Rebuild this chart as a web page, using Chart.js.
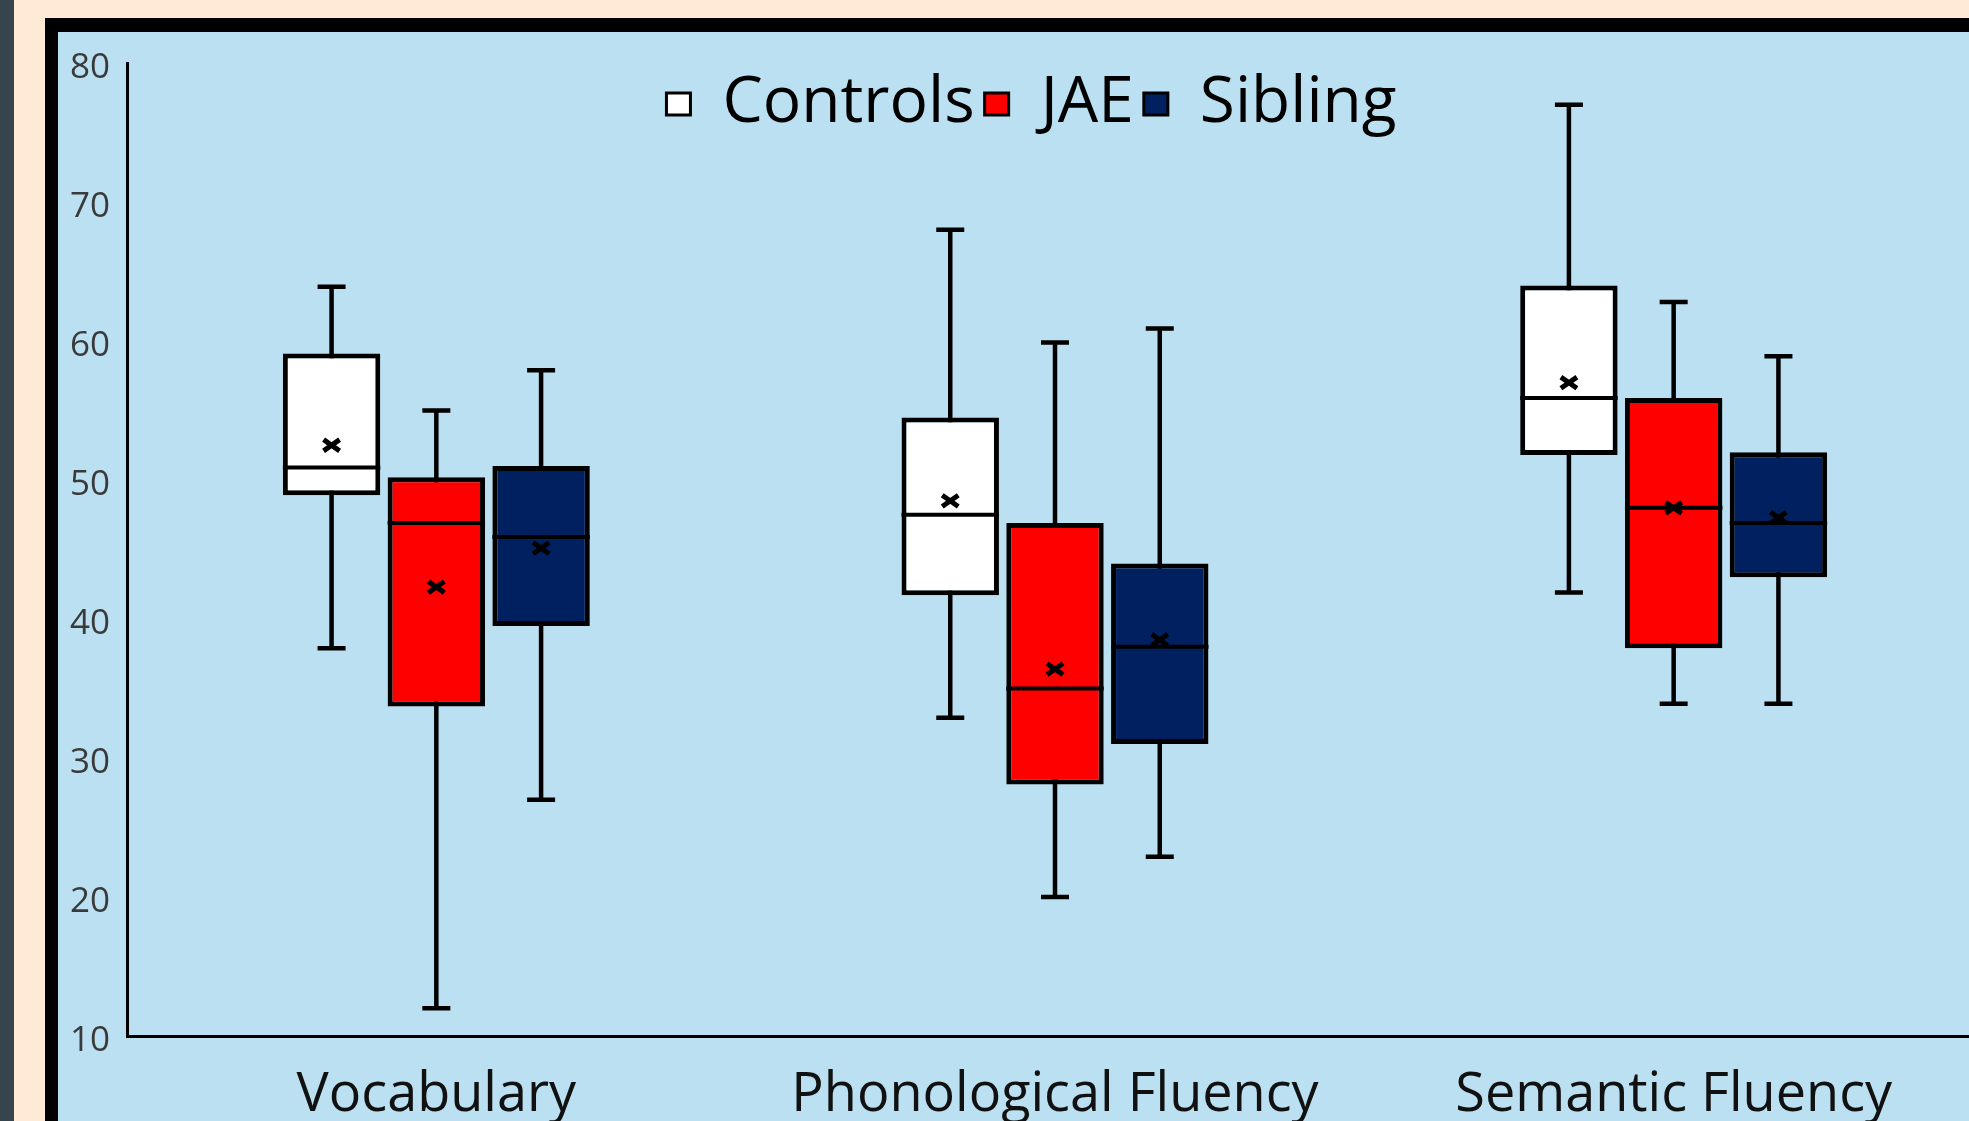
<!DOCTYPE html>
<html>
<head>
<meta charset="utf-8">
<script src="https://cdn.jsdelivr.net/npm/chart.js@4.4.1/dist/chart.umd.min.js"></script>
<style>
  html, body { margin: 0; padding: 0; width: 1969px; height: 1121px; overflow: hidden; background: #FFEAD6; }
  #strip { position: absolute; left: 0; top: 0; width: 14px; height: 1121px; background: #36444D; }
  #frame { position: absolute; left: 45px; top: 18px; width: 2000px; height: 1200px; background: #000; }
  #panel { position: absolute; left: 58px; top: 32px; width: 2000px; height: 1200px; background: #BAE0F1; }
  #c { position: absolute; left: 58px; top: 32px; }
</style>
</head>
<body>
<div id="strip"></div>
<div id="frame"></div>
<div id="panel"></div>
<canvas id="c" width="1940" height="1089"></canvas>
<script>
// ---- data ----
const categories = ['Vocabulary', 'Phonological Fluency', 'Semantic Fluency'];
const yTickValues = [10, 20, 30, 40, 50, 60, 70, 80];

const controlsMin    = [37.9, 32.9, 41.9];
const controlsQ1     = [48.9, 41.7, 51.8];
const controlsMedian = [50.9, 47.5, 55.9];
const controlsQ3     = [59.1, 54.5, 64.0];
const controlsMax    = [63.9, 68.0, 77.0];
const controlsMean   = [52.5, 48.5, 57.0];

const jaeMin    = [12.0, 20.0, 33.9];
const jaeQ1     = [33.7, 28.1, 37.9];
const jaeMedian = [46.9, 35.0, 48.0];
const jaeQ3     = [50.2, 46.9, 55.9];
const jaeMax    = [55.0, 59.9, 62.8];
const jaeMean   = [42.3, 36.4, 48.0];

const siblingMin    = [27.0, 22.9, 33.9];
const siblingQ1     = [39.5, 31.0, 43.0];
const siblingMedian = [45.9, 38.0, 46.9];
const siblingQ3     = [51.0, 44.0, 52.0];
const siblingMax    = [57.9, 60.9, 58.9];
const siblingMean   = [45.1, 38.5, 47.3];

function boxDataset(label, q1, q3, min, med, max, mean, fill) {
  return {
    label: label,
    data: q1.map((v, i) => [v, q3[i]]),
    whiskerMin: min, median: med, whiskerMax: max, mean: mean,
    backgroundColor: fill,
    borderColor: '#000000',
    borderWidth: 5,
    borderSkipped: false,
    categoryPercentage: 0.508,
    barPercentage: 0.93
  };
}

const whiskerPlugin = {
  id: 'boxParts',
  beforeDatasetsDraw(chart) {
    const ctx = chart.ctx, ys = chart.scales.y;
    ctx.save();
    ctx.strokeStyle = '#000';
    ctx.lineWidth = 4.5;
    chart.data.datasets.forEach((ds, di) => {
      chart.getDatasetMeta(di).data.forEach((bar, i) => {
        const x = bar.x;
        const yMin = ys.getPixelForValue(ds.whiskerMin[i]);
        const yMax = ys.getPixelForValue(ds.whiskerMax[i]);
        ctx.beginPath();
        ctx.moveTo(x, yMax); ctx.lineTo(x, yMin);
        ctx.moveTo(x - 14, yMax); ctx.lineTo(x + 14, yMax);
        ctx.moveTo(x - 14, yMin); ctx.lineTo(x + 14, yMin);
        ctx.stroke();
      });
    });
    ctx.restore();
  },
  afterDatasetsDraw(chart) {
    const ctx = chart.ctx, ys = chart.scales.y;
    ctx.save();
    ctx.strokeStyle = '#000';
    chart.data.datasets.forEach((ds, di) => {
      chart.getDatasetMeta(di).data.forEach((bar, i) => {
        const x = bar.x, hw = bar.width / 2;
        const yMed = ys.getPixelForValue(ds.median[i]);
        ctx.lineWidth = 4;
        ctx.beginPath();
        ctx.moveTo(x - hw, yMed); ctx.lineTo(x + hw, yMed);
        ctx.stroke();
        const yMean = ys.getPixelForValue(ds.mean[i]);
        const r = 8;
        ctx.lineWidth = 5;
        ctx.beginPath();
        ctx.moveTo(x - r, yMean - r * 0.7); ctx.lineTo(x + r, yMean + r * 0.7);
        ctx.moveTo(x - r, yMean + r * 0.7); ctx.lineTo(x + r, yMean - r * 0.7);
        ctx.stroke();
      });
    });
    ctx.restore();
  }
};

// legend sits over the plot area: let its box take (almost) no layout space,
// then widen the box again so nothing gets clipped when it is drawn
const legendOverlay = {
  id: 'legendOverlay',
  afterLayout(chart) {
    const lg = chart.legend;
    if (!lg) return;
    lg.left += 11;
    lg.right += 11;
    lg.height = 120;
    lg.bottom = lg.top + 120;
  }
};

Chart.defaults.font.family = "'Open Sans', 'DejaVu Sans', sans-serif";

new Chart(document.getElementById('c'), {
  type: 'bar',
  data: {
    labels: categories,
    datasets: [
      boxDataset('Controls', controlsQ1, controlsQ3, controlsMin, controlsMedian, controlsMax, controlsMean, '#FFFFFF'),
      boxDataset('JAE', jaeQ1, jaeQ3, jaeMin, jaeMedian, jaeMax, jaeMean, '#FF0000'),
      boxDataset('Sibling', siblingQ1, siblingQ3, siblingMin, siblingMedian, siblingMax, siblingMean, '#002060')
    ]
  },
  plugins: [whiskerPlugin, legendOverlay],
  options: {
    responsive: false,
    animation: false,
    devicePixelRatio: 1,
    layout: { padding: { top: 30, right: 15, bottom: 0, left: 0 } },
    plugins: {
      tooltip: { enabled: false },
      legend: {
        position: 'top',
        maxHeight: 1,
        labels: {
          color: '#000',
          font: { size: 64 },
          boxWidth: 24,
          boxHeight: 22,
          padding: 10,
          generateLabels(chart) {
            return Chart.defaults.plugins.legend.labels.generateLabels(chart).map(l => Object.assign(l, { lineWidth: 3, strokeStyle: '#000' }));
          }
        }
      }
    },
    scales: {
      x: {
        grid: { display: false, drawTicks: false },
        border: { color: '#000', width: 3 },
        ticks: { color: '#111', font: { size: 54 }, padding: 27, maxRotation: 0, autoSkip: false },
        afterFit(s) { s.height = 85; }
      },
      y: {
        min: 10, max: 80,
        grid: { display: false, drawTicks: false },
        border: { color: '#000', width: 3 },
        ticks: { color: '#3a3a3a', font: { size: 35 }, padding: 17, labelOffset: 5 },
        afterBuildTicks(s) { s.ticks = yTickValues.map(v => ({ value: v })); },
        afterFit(s) { s.width = 69; s.paddingTop = 0; s.paddingBottom = 0; }
      }
    }
  }
});
</script>
</body>
</html>
